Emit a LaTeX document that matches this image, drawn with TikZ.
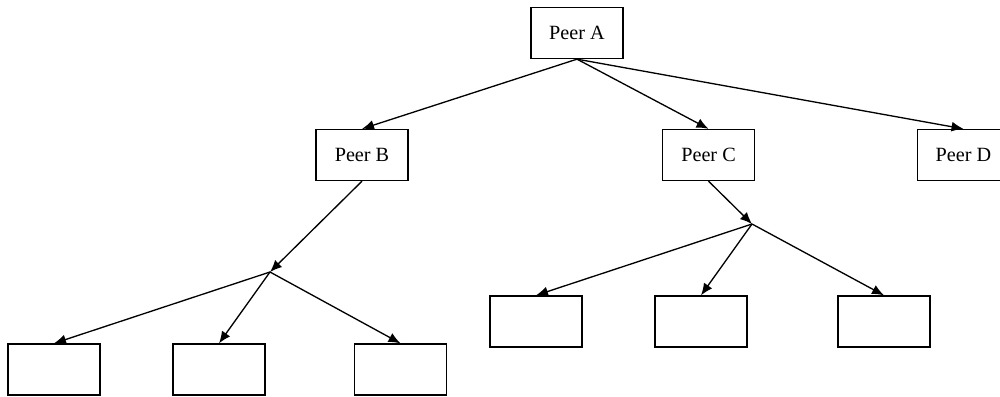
\documentclass[tikz,border=0pt]{standalone}
\usepackage{fontspec}
\setmainfont{Liberation Serif}
\usetikzlibrary{arrows.meta}
\begin{document}
\begin{tikzpicture}[x=0.02cm,y=-0.02cm,
  peer/.style={draw,line width=0.75pt,inner sep=0pt,minimum width=1.84cm,minimum height=1.02cm,font=\fontsize{11.5}{13}\selectfont},
  link/.style={line width=0.75pt,-{Latex[length=0.24cm,width=0.2cm]}}]
  \useasboundingbox (0,0) rectangle (1000,396);
  \clip (0,0) rectangle (1000,396);
  % top level
  \node[peer] (a) at (577,33) {Peer A};
  % second level
  \node[peer] (b) at (362,155) {Peer B};
  \node[peer] (c) at (708.5,155) {Peer C};
  \node[peer] (d) at (963.5,155) {Peer D};
  % branch points
  \coordinate (jb) at (270,272);
  \coordinate (jc) at (752,224);
  % leaves under Peer B
  \node[peer] (b1) at (54,369.5) {};
  \node[peer] (b2) at (219,369.5) {};
  \node[peer] (b3) at (400.5,369.5) {};
  % leaves under Peer C
  \node[peer] (c1) at (536,321.5) {};
  \node[peer] (c2) at (701,321.5) {};
  \node[peer] (c3) at (884,321.5) {};
  % connectors
  \draw[link] (a.south) -- (b.north);
  \draw[link] (a.south) -- (c.north);
  \draw[link] (a.south) -- (d.north);
  \draw[link] (b.south) -- (jb);
  \draw[link] (c.south) -- (jc);
  \draw[link] (jb) -- (b1.north);
  \draw[link] (jb) -- (b2.north);
  \draw[link] (jb) -- (b3.north);
  \draw[link] (jc) -- (c1.north);
  \draw[link] (jc) -- (c2.north);
  \draw[link] (jc) -- (c3.north);
\end{tikzpicture}
\end{document}
